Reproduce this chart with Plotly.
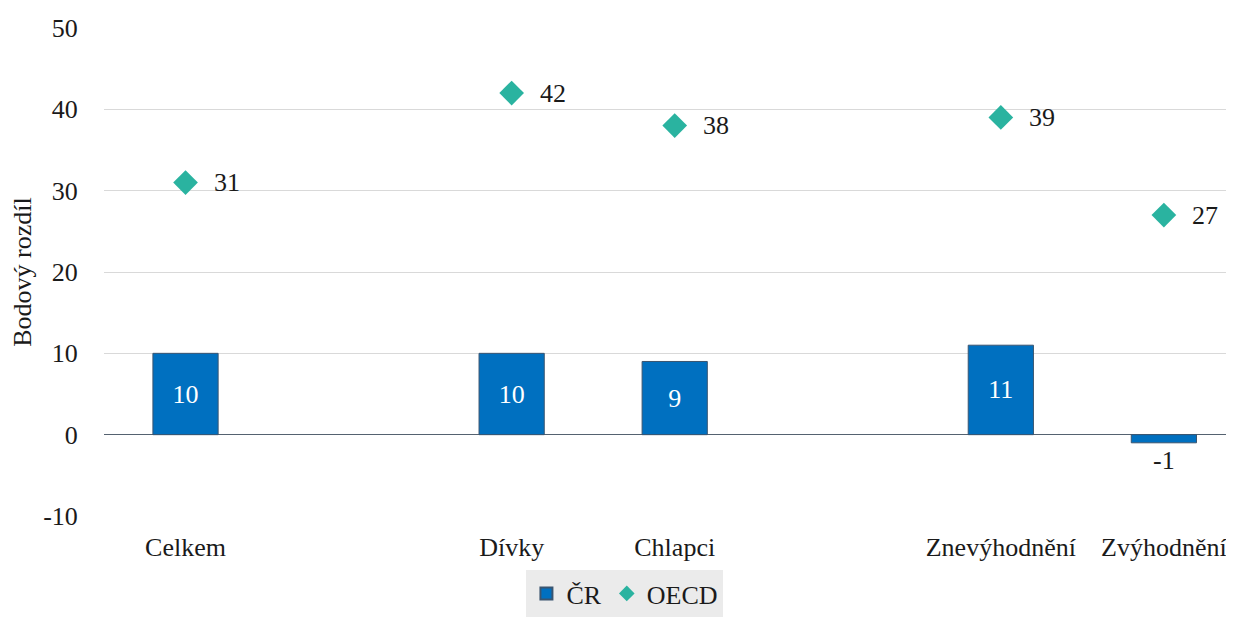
import plotly.graph_objects as go

# categories (blank slots separate the groups)
categories = ['Celkem', ' ', 'Dívky', 'Chlapci', '  ', 'Znevýhodnění', 'Zvýhodnění']
cr_values = [10, None, 10, 9, None, 11, -1]
oecd_values = [31, None, 42, 38, None, 39, 27]
y_ticks = [-10, 0, 10, 20, 30, 40, 50]

FONT = '"Liberation Serif", "Times New Roman", serif'
FS = 26
BLUE = '#0070C0'
TEAL = '#2AB3A0'

def lbl(v):
  return '' if v is None else str(v)

fig = go.Figure()

fig.add_trace(go.Bar(
  x=categories, y=cr_values, name='ČR',
  marker=dict(color=BLUE, line=dict(color='#3A5570', width=1)),
  width=0.4,
  text=[lbl(v) for v in cr_values],
  textposition=['inside' if (v or 0) >= 0 else 'outside' for v in cr_values],
  insidetextanchor='middle',
  insidetextfont=dict(color='white', size=FS, family=FONT),
  outsidetextfont=dict(color='#1a1a1a', size=FS, family=FONT),
  textangle=0,
  cliponaxis=False,
))

fig.add_trace(go.Scatter(
  x=categories, y=oecd_values, name='OECD', mode='markers',
  marker=dict(symbol='diamond', size=19, color=TEAL),
))

# OECD value labels, right of each diamond
for c, v in zip(categories, oecd_values):
  if v is None: continue
  fig.add_annotation(x=c, y=v, text=str(v), showarrow=False, xshift=41,
                     font=dict(size=FS, family=FONT, color='#1a1a1a'))

# page body has an 8px margin, so the figure is sized to fit the window
fig.update_layout(
  width=1226, height=609,
  margin=dict(l=96, r=0, t=20, b=101),
  plot_bgcolor='white', paper_bgcolor='white',
  font=dict(family=FONT, size=FS, color='#1a1a1a'),
  showlegend=True,
  legend=dict(orientation='h', x=0.461, xanchor='center', xref='paper',
              y=-0.016, yanchor='bottom', yref='container',
              bgcolor='#EBEBEB', font=dict(size=FS, family=FONT),
              itemsizing='constant', traceorder='normal', itemwidth=30),
  xaxis=dict(type='category', range=[-0.5, 6.43], showgrid=False, zeroline=False,
             automargin=False,
             ticks='outside', ticklen=8, tickcolor='rgba(0,0,0,0)',
             tickfont=dict(size=FS, family=FONT)),
  yaxis=dict(range=[-10, 50], tickvals=y_ticks, ticktext=[str(t) for t in y_ticks],
             showgrid=True, gridcolor='#D9D9D9', automargin=False,
             gridwidth=1, zeroline=True, zerolinecolor='#556270', zerolinewidth=1.3,
             ticks='outside', ticklen=20, tickcolor='rgba(0,0,0,0)',
             tickfont=dict(size=FS, family=FONT),
             title=dict(text='Bodový rozdíl', font=dict(size=FS, family=FONT), standoff=8)),
)

fig.write_html('out.html')
